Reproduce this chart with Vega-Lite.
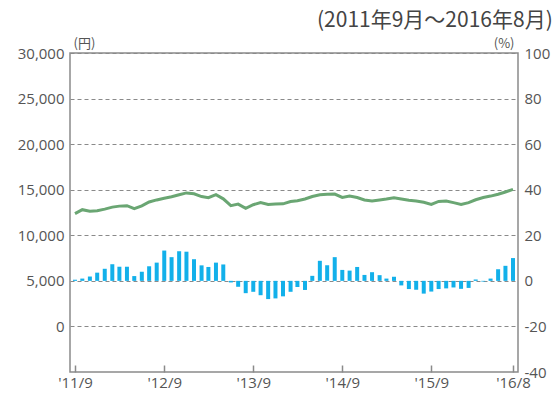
{
  "$schema": "https://vega.github.io/schema/vega-lite/v6.json",
  "width": 448,
  "height": 319,
  "autosize": {"type": "none"},
  "padding": {"left": 70, "top": 53, "right": 42, "bottom": 31},
  "background": "white",
  "title": {
    "text": "(2011年9月～2016年8月)",
    "anchor": "end",
    "font": "Noto Sans CJK JP",
    "fontSize": 21,
    "fontWeight": "normal",
    "color": "#444",
    "dx": 3,
    "offset": 6
  },
  "config": {
    "view": {"stroke": "#8a8a8a", "strokeWidth": 1.5},
    "axis": {
      "labelFont": "Open Sans",
      "labelFontSize": 15,
      "labelColor": "#555",
      "titleFont": "Noto Sans CJK JP",
      "titleFontSize": 13,
      "titleFontWeight": "normal",
      "titleColor": "#555",
      "domain": false
    }
  },
  "data": {
    "values": [
      {"date": "2011-09-01", "nav": 12370, "ret": 0.5},
      {"date": "2011-10-01", "nav": 12810, "ret": 1.0},
      {"date": "2011-11-01", "nav": 12650, "ret": 1.9},
      {"date": "2011-12-01", "nav": 12700, "ret": 3.6},
      {"date": "2012-01-01", "nav": 12870, "ret": 5.3},
      {"date": "2012-02-01", "nav": 13090, "ret": 7.3},
      {"date": "2012-03-01", "nav": 13200, "ret": 6.2},
      {"date": "2012-04-01", "nav": 13250, "ret": 6.2},
      {"date": "2012-05-01", "nav": 12920, "ret": 2.1},
      {"date": "2012-06-01", "nav": 13220, "ret": 4.0},
      {"date": "2012-07-01", "nav": 13650, "ret": 6.4},
      {"date": "2012-08-01", "nav": 13880, "ret": 8.0},
      {"date": "2012-09-01", "nav": 14070, "ret": 13.3},
      {"date": "2012-10-01", "nav": 14230, "ret": 10.4},
      {"date": "2012-11-01", "nav": 14450, "ret": 13.0},
      {"date": "2012-12-01", "nav": 14650, "ret": 12.8},
      {"date": "2013-01-01", "nav": 14550, "ret": 9.5},
      {"date": "2013-02-01", "nav": 14250, "ret": 6.8},
      {"date": "2013-03-01", "nav": 14120, "ret": 6.1},
      {"date": "2013-04-01", "nav": 14450, "ret": 8.0},
      {"date": "2013-05-01", "nav": 14000, "ret": 7.2},
      {"date": "2013-06-01", "nav": 13250, "ret": -0.7},
      {"date": "2013-07-01", "nav": 13420, "ret": -2.6},
      {"date": "2013-08-01", "nav": 12950, "ret": -5.4},
      {"date": "2013-09-01", "nav": 13350, "ret": -4.8},
      {"date": "2013-10-01", "nav": 13600, "ret": -6.3},
      {"date": "2013-11-01", "nav": 13380, "ret": -8.0},
      {"date": "2013-12-01", "nav": 13420, "ret": -7.7},
      {"date": "2014-01-01", "nav": 13450, "ret": -6.8},
      {"date": "2014-02-01", "nav": 13700, "ret": -4.8},
      {"date": "2014-03-01", "nav": 13800, "ret": -2.7},
      {"date": "2014-04-01", "nav": 13980, "ret": -4.0},
      {"date": "2014-05-01", "nav": 14250, "ret": 2.2},
      {"date": "2014-06-01", "nav": 14450, "ret": 8.8},
      {"date": "2014-07-01", "nav": 14500, "ret": 6.9},
      {"date": "2014-08-01", "nav": 14520, "ret": 10.4},
      {"date": "2014-09-01", "nav": 14150, "ret": 4.8},
      {"date": "2014-10-01", "nav": 14300, "ret": 4.5},
      {"date": "2014-11-01", "nav": 14150, "ret": 6.1},
      {"date": "2014-12-01", "nav": 13880, "ret": 2.6},
      {"date": "2015-01-01", "nav": 13770, "ret": 3.8},
      {"date": "2015-02-01", "nav": 13880, "ret": 2.5},
      {"date": "2015-03-01", "nav": 13980, "ret": 1.0},
      {"date": "2015-04-01", "nav": 14120, "ret": 1.8},
      {"date": "2015-05-01", "nav": 13980, "ret": -2.0},
      {"date": "2015-06-01", "nav": 13850, "ret": -3.6},
      {"date": "2015-07-01", "nav": 13760, "ret": -3.9},
      {"date": "2015-08-01", "nav": 13620, "ret": -5.6},
      {"date": "2015-09-01", "nav": 13380, "ret": -4.7},
      {"date": "2015-10-01", "nav": 13720, "ret": -3.6},
      {"date": "2015-11-01", "nav": 13760, "ret": -3.3},
      {"date": "2015-12-01", "nav": 13580, "ret": -2.9},
      {"date": "2016-01-01", "nav": 13380, "ret": -3.5},
      {"date": "2016-02-01", "nav": 13580, "ret": -3.1},
      {"date": "2016-03-01", "nav": 13900, "ret": 0.6},
      {"date": "2016-04-01", "nav": 14150, "ret": -0.3},
      {"date": "2016-05-01", "nav": 14300, "ret": 1.0},
      {"date": "2016-06-01", "nav": 14500, "ret": 5.1},
      {"date": "2016-07-01", "nav": 14750, "ret": 6.6},
      {"date": "2016-08-01", "nav": 15040, "ret": 10.0}
    ]
  },
  "encoding": {
    "x": {
      "field": "date",
      "type": "temporal",
      "scale": {
        "type": "utc",
        "domain": [
          {"year": 2011, "month": 9, "date": 1, "utc": true},
          {"year": 2016, "month": 8, "date": 1, "utc": true}
        ]
      },
      "axis": {
        "title": null,
        "grid": false,
        "values": [
          {"year": 2011, "month": 9, "date": 1, "utc": true},
          {"year": 2012, "month": 9, "date": 1, "utc": true},
          {"year": 2013, "month": 9, "date": 1, "utc": true},
          {"year": 2014, "month": 9, "date": 1, "utc": true},
          {"year": 2015, "month": 9, "date": 1, "utc": true},
          {"year": 2016, "month": 8, "date": 1, "utc": true}
        ],
        "labelExpr": "\"'\" + utcFormat(datum.value, '%y/%-m')",
        "labelFlush": false,
        "labelBound": false,
        "labelPadding": 10,
        "tickSize": -7,
        "tickColor": "#8a8a8a",
        "tickWidth": 1.5
      }
    }
  },
  "layer": [
    {
      "mark": {"type": "bar", "width": 4, "color": "#12b0ea"},
      "encoding": {
        "y": {
          "field": "ret",
          "type": "quantitative",
          "scale": {"domain": [-40, 100], "nice": false, "zero": false},
          "axis": {
            "orient": "right",
            "values": [-40, -20, 0, 20, 40, 60, 80, 100],
            "labelExpr": "datum.value < 0 ? '-' + abs(datum.value) : '' + datum.value",
            "grid": false,
            "ticks": false,
            "labelPadding": 6,
            "title": "(%)",
            "titleAngle": 0,
            "titleX": -4,
            "titleY": -3,
            "titleAlign": "right",
            "titleBaseline": "bottom"
          }
        }
      }
    },
    {
      "mark": {"type": "line", "color": "#6aa673", "strokeWidth": 3},
      "encoding": {
        "y": {
          "field": "nav",
          "type": "quantitative",
          "scale": {"domain": [-5000, 30000], "nice": false, "zero": false},
          "axis": {
            "orient": "left",
            "values": [0, 5000, 10000, 15000, 20000, 25000, 30000],
            "labelExpr": "format(datum.value, ',')",
            "grid": true,
            "gridColor": "#8a8a8a",
            "gridDash": [4, 3],
            "gridWidth": 1,
            "ticks": false,
            "labelPadding": 6,
            "title": "(円)",
            "titleAngle": 0,
            "titleX": 3,
            "titleY": -3,
            "titleAlign": "left",
            "titleBaseline": "bottom"
          }
        }
      }
    }
  ],
  "resolve": {"scale": {"y": "independent"}}
}
